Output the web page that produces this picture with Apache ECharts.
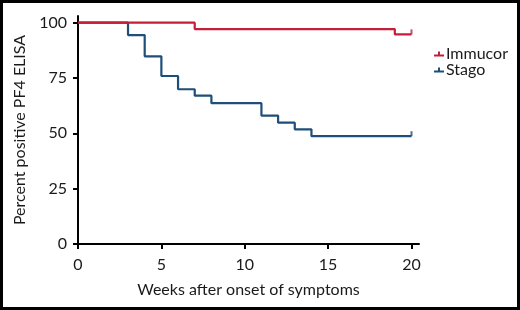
<!DOCTYPE html>
<html>
<head>
<meta charset="utf-8">
<script src="https://cdn.jsdelivr.net/npm/echarts@6/dist/echarts.min.js"></script>
<style>
  html, body { margin: 0; padding: 0; background: #fff; }
  #main { width: 520px; height: 310px; }
</style>
</head>
<body>
<div id="main"></div>
<script>
// Kaplan-Meier steps
var immucorWeeks = [0, 7, 19, 20];
var immucorPct   = [100, 97.1, 94.7, 94.7];
var stagoWeeks = [0, 3, 4, 5, 6, 7, 8, 11, 12, 13, 14, 20];
var stagoPct   = [100, 94.4, 84.8, 75.9, 69.9, 67, 63.6, 58, 54.8, 51.8, 48.7, 48.7];
var xTicks = [0, 5, 10, 15, 20];
var yTicks = [0, 25, 50, 75, 100];

var RED = '#c41e3a';
var BLUE = '#1f4e7a';
var FONT = 'Lato';

function pairs(xs, ys) {
    var out = [];
    for (var i = 0; i < xs.length; i++) {
        out.push([xs[i], ys[i]]);
    }
    return out;
}
var immucor = pairs(immucorWeeks, immucorPct);
var stago = pairs(stagoWeeks, stagoPct);

// little censor tick at the end of each curve
var censorMark = {
    type: 'scatter',
    symbol: 'rect',
    symbolSize: [2, 5],
    symbolOffset: [0, -2.5],
    silent: true,
    z: 3
};

var legendIcon = 'path://M0,3L10,3L10,5L0,5Z M4,0L6,0L6,5L4,5Z';

var myChart = echarts.init(document.getElementById('main'));
var option = {
    backgroundColor: '#fff',
    animation: false,
    textStyle: { fontFamily: FONT },
    graphic: [{
        type: 'rect',
        shape: { x: 1.5, y: 1.5, width: 517, height: 307 },
        style: { fill: 'none', stroke: '#000', lineWidth: 3 },
        z: 10
    }],
    grid: { left: 78, right: 101, top: 16, bottom: 66 },
    legend: {
        orient: 'vertical',
        left: 429,
        top: 41,
        itemWidth: 10,
        itemHeight: 5,
        itemGap: 0,
        data: [
            { name: 'Immucor', icon: legendIcon },
            { name: 'Stago', icon: legendIcon }
        ],
        textStyle: { fontFamily: FONT, fontSize: 16, color: '#1a1a1a', padding: [0, 0, 0, -3] }
    },
    xAxis: {
        type: 'value',
        min: 0,
        max: 20.45,
        name: 'Weeks after onset of symptoms',
        nameLocation: 'middle',
        nameGap: 38,
        nameTextStyle: { fontFamily: FONT, fontSize: 16, color: '#1a1a1a' },
        splitLine: { show: false },
        axisLine: { lineStyle: { color: '#000', width: 2 } },
        axisTick: { customValues: xTicks, length: 5, lineStyle: { color: '#000', width: 2 } },
        axisLabel: { customValues: xTicks, margin: 13, fontFamily: FONT, fontSize: 16, color: '#1a1a1a' }
    },
    yAxis: {
        type: 'value',
        min: 0,
        max: 103,
        name: 'Percent positive PF4 ELISA',
        nameLocation: 'middle',
        nameGap: 50,
        nameTextStyle: { fontFamily: FONT, fontSize: 16, color: '#1a1a1a' },
        splitLine: { show: false },
        axisLine: { show: true, lineStyle: { color: '#000', width: 2 } },
        axisTick: { show: true, customValues: yTicks, length: 5, lineStyle: { color: '#000', width: 2 } },
        axisLabel: { customValues: yTicks, margin: 11, fontFamily: FONT, fontSize: 16, color: '#1a1a1a' }
    },
    series: [
        {
            name: 'Immucor',
            type: 'line',
            step: 'end',
            data: immucor,
            showSymbol: false,
            color: RED,
            lineStyle: { width: 2.2, color: RED },
            z: 2
        },
        {
            name: 'Stago',
            type: 'line',
            step: 'end',
            data: stago,
            showSymbol: false,
            color: BLUE,
            lineStyle: { width: 2.2, color: BLUE },
            z: 1
        },
        Object.assign({}, censorMark, {
            name: 'Immucor censored',
            data: [immucor[immucor.length - 1]],
            itemStyle: { color: RED }
        }),
        Object.assign({}, censorMark, {
            name: 'Stago censored',
            data: [stago[stago.length - 1]],
            itemStyle: { color: BLUE }
        })
    ]
};
myChart.setOption(option);
</script>
</body>
</html>
